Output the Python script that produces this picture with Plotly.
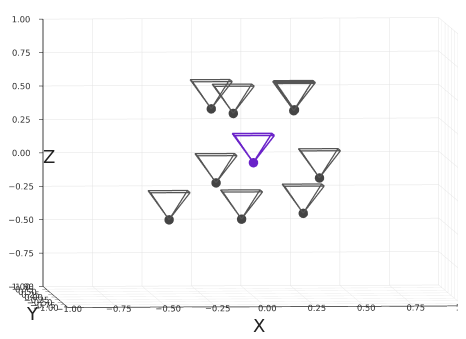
import numpy as np
import plotly.graph_objects as go

# camera centres (x, y, z); first one is the highlighted camera
cam_x = [0.0, -0.21, -0.105, 0.21, 0.215, -0.195, 0.337, -0.426, -0.063, 0.258]
cam_y = [0.0, 0.05, -0.05, 0.10, 0.12, -0.10, 0.05, 0.0, -0.05, 0.10]
cam_z = [0.0, 0.40, 0.373, 0.38, 0.385, -0.142, -0.12, -0.425, -0.418, -0.388]

tick_vals = [-1.0, -0.75, -0.5, -0.25, 0.0, 0.25, 0.5, 0.75, 1.0]
tick_text = ['\u22121.00', '\u22120.75', '\u22120.50', '\u22120.25', '0.00',
             '0.25', '0.50', '0.75', '1.00']

HALF_W = 0.1   # half width of the image plane of each frustum
DEPTH = 0.21   # distance apex -> image plane (frustums point up, +z)


def frustum(cx, cy, cz):
    corners = [(cx - HALF_W, cy - HALF_W), (cx + HALF_W, cy - HALF_W),
               (cx + HALF_W, cy + HALF_W), (cx - HALF_W, cy + HALF_W)]
    xs, ys, zs = [], [], []
    for (px, py) in corners:
        xs += [cx, px, None]
        ys += [cy, py, None]
        zs += [cz, cz + DEPTH, None]
    ring = corners + [corners[0]]
    xs += [p[0] for p in ring] + [None]
    ys += [p[1] for p in ring] + [None]
    zs += [cz + DEPTH] * 5 + [None]
    return xs, ys, zs


fig = go.Figure()

gx, gy, gz = [], [], []
for cx, cy, cz in zip(cam_x[1:], cam_y[1:], cam_z[1:]):
    a, b, c = frustum(cx, cy, cz)
    gx += a; gy += b; gz += c
fig.add_trace(go.Scatter3d(x=gx, y=gy, z=gz, mode='lines',
                           line=dict(color='#555555', width=2.5),
                           showlegend=False, hoverinfo='skip'))
fig.add_trace(go.Scatter3d(x=cam_x[1:], y=cam_y[1:], z=cam_z[1:], mode='markers',
                           marker=dict(color='#444444', size=5.5),
                           showlegend=False))

px_, py_, pz_ = frustum(cam_x[0], cam_y[0], cam_z[0])
fig.add_trace(go.Scatter3d(x=px_, y=py_, z=pz_, mode='lines',
                           line=dict(color='#6a22c9', width=3),
                           showlegend=False, hoverinfo='skip'))
fig.add_trace(go.Scatter3d(x=[cam_x[0]], y=[cam_y[0]], z=[cam_z[0]], mode='markers',
                           marker=dict(color='#6a22c9', size=5.5),
                           showlegend=False))

axis_style = dict(range=[-1, 1], tickvals=tick_vals, ticktext=tick_text,
                  showbackground=True, backgroundcolor='white',
                  gridcolor='#e3e3e3', gridwidth=1,
                  showline=True, linecolor='black', linewidth=1.5,
                  ticks='outside', ticklen=4, tickcolor='black', tickangle=0,
                  tickfont=dict(size=10, color='#333333'),
                  zeroline=False, showspikes=False, title=dict(text=''))

fig.update_layout(
    width=466, height=339,
    margin=dict(l=0, r=0, t=0, b=0),
    paper_bgcolor='white',
    font=dict(family='DejaVu Sans', color='#222222'),
    scene=dict(
        xaxis=axis_style, yaxis=axis_style, zaxis=axis_style,
        aspectmode='manual',
        aspectratio=dict(x=2.34, y=2.2, z=1.58),
        camera=dict(eye=dict(x=-0.173, y=-1.5, z=-0.003),
                    center=dict(x=-0.073, y=0, z=-0.088),
                    up=dict(x=0, y=0, z=1),
                    projection=dict(type='orthographic')),
        domain=dict(x=[0, 1], y=[0, 1]),
    ),
    annotations=[
        dict(text='X', x=0.539, y=0.027, xref='paper', yref='paper',
             showarrow=False, font=dict(size=18, color='#222222')),
        dict(text='Z', x=0.071, y=0.563, xref='paper', yref='paper',
             showarrow=False, font=dict(size=18, color='#222222')),
        dict(text='Y', x=0.034, y=0.062, xref='paper', yref='paper',
             showarrow=False, font=dict(size=18, color='#222222')),
    ],
)

fig.write_html("out.html")
